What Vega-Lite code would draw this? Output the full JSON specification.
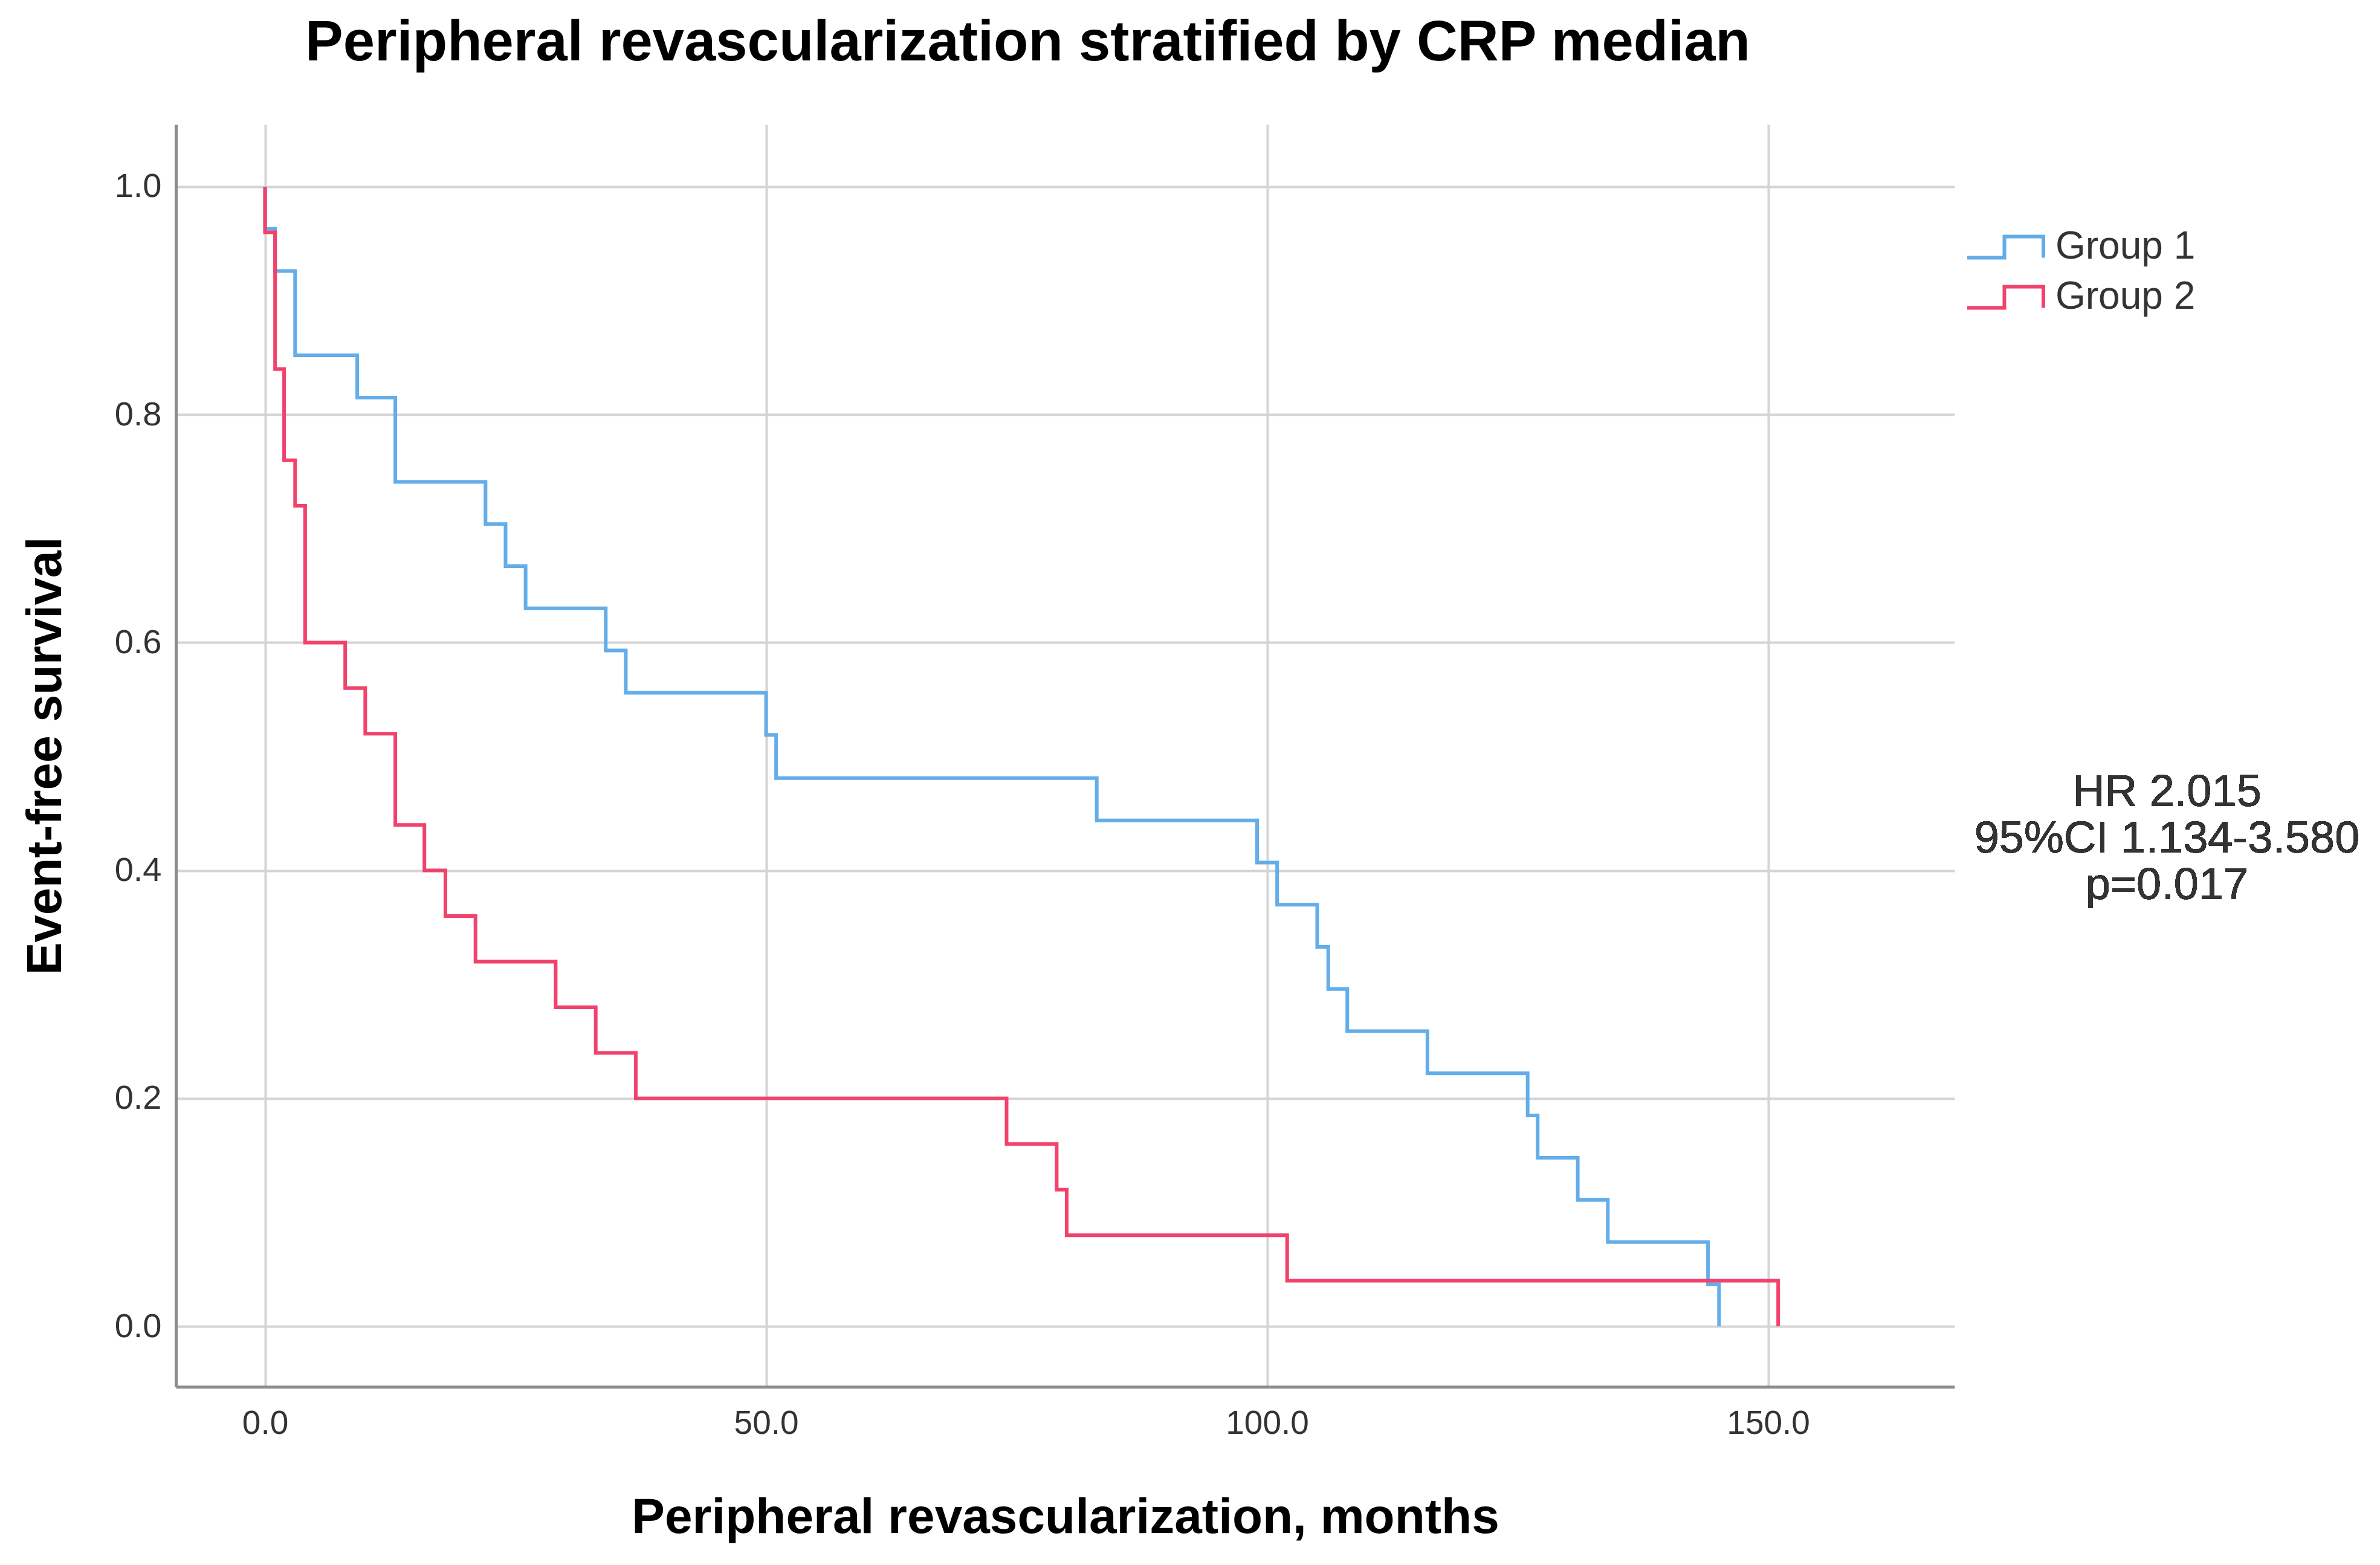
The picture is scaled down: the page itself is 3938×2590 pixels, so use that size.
{
  "$schema": "https://vega.github.io/schema/vega-lite/v6.json",
  "width": 2943,
  "height": 2089,
  "autosize": {"type": "none"},
  "padding": {"left": 291, "top": 206, "right": 704, "bottom": 295},
  "background": "white",
  "config": {"view": {"stroke": null}, "font": "Liberation Sans"},
  "title": {
    "text": "Peripheral revascularization stratified by CRP median",
    "fontSize": 94,
    "fontWeight": "bold",
    "font": "Liberation Sans",
    "color": "#000000",
    "anchor": "middle",
    "offset": 86,
    "dx": -62
  },
  "data": {
    "values": [
      {"group": "Group 1", "i": 0, "months": 0, "survival": 1.0},
      {"group": "Group 1", "i": 1, "months": 0, "survival": 0.963},
      {"group": "Group 1", "i": 2, "months": 1.0, "survival": 0.926},
      {"group": "Group 1", "i": 3, "months": 3.0, "survival": 0.852},
      {"group": "Group 1", "i": 4, "months": 9.2, "survival": 0.815},
      {"group": "Group 1", "i": 5, "months": 13.0, "survival": 0.741},
      {"group": "Group 1", "i": 6, "months": 22.0, "survival": 0.704},
      {"group": "Group 1", "i": 7, "months": 24.0, "survival": 0.667},
      {"group": "Group 1", "i": 8, "months": 26.0, "survival": 0.630},
      {"group": "Group 1", "i": 9, "months": 34.0, "survival": 0.593},
      {"group": "Group 1", "i": 10, "months": 36.0, "survival": 0.556},
      {"group": "Group 1", "i": 11, "months": 50.0, "survival": 0.519},
      {"group": "Group 1", "i": 12, "months": 51.0, "survival": 0.481},
      {"group": "Group 1", "i": 13, "months": 83.0, "survival": 0.444},
      {"group": "Group 1", "i": 14, "months": 99.0, "survival": 0.407},
      {"group": "Group 1", "i": 15, "months": 101.0, "survival": 0.370},
      {"group": "Group 1", "i": 16, "months": 105.0, "survival": 0.333},
      {"group": "Group 1", "i": 17, "months": 106.1, "survival": 0.296},
      {"group": "Group 1", "i": 18, "months": 108.0, "survival": 0.259},
      {"group": "Group 1", "i": 19, "months": 116.0, "survival": 0.222},
      {"group": "Group 1", "i": 20, "months": 126.0, "survival": 0.185},
      {"group": "Group 1", "i": 21, "months": 127.0, "survival": 0.148},
      {"group": "Group 1", "i": 22, "months": 131.0, "survival": 0.111},
      {"group": "Group 1", "i": 23, "months": 134.0, "survival": 0.074},
      {"group": "Group 1", "i": 24, "months": 144.0, "survival": 0.037},
      {"group": "Group 1", "i": 25, "months": 145.1, "survival": 0.0},
      {"group": "Group 2", "i": 0, "months": 0, "survival": 1.0},
      {"group": "Group 2", "i": 1, "months": 0, "survival": 0.96},
      {"group": "Group 2", "i": 2, "months": 1.0, "survival": 0.84},
      {"group": "Group 2", "i": 3, "months": 1.9, "survival": 0.76},
      {"group": "Group 2", "i": 4, "months": 3.0, "survival": 0.72},
      {"group": "Group 2", "i": 5, "months": 4.0, "survival": 0.60},
      {"group": "Group 2", "i": 6, "months": 8.0, "survival": 0.56},
      {"group": "Group 2", "i": 7, "months": 10.0, "survival": 0.52},
      {"group": "Group 2", "i": 8, "months": 13.0, "survival": 0.44},
      {"group": "Group 2", "i": 9, "months": 15.9, "survival": 0.40},
      {"group": "Group 2", "i": 10, "months": 18.0, "survival": 0.36},
      {"group": "Group 2", "i": 11, "months": 21.0, "survival": 0.32},
      {"group": "Group 2", "i": 12, "months": 29.0, "survival": 0.28},
      {"group": "Group 2", "i": 13, "months": 33.0, "survival": 0.24},
      {"group": "Group 2", "i": 14, "months": 37.0, "survival": 0.20},
      {"group": "Group 2", "i": 15, "months": 74.0, "survival": 0.16},
      {"group": "Group 2", "i": 16, "months": 79.0, "survival": 0.12},
      {"group": "Group 2", "i": 17, "months": 80.0, "survival": 0.08},
      {"group": "Group 2", "i": 18, "months": 102.0, "survival": 0.04},
      {"group": "Group 2", "i": 19, "months": 151.0, "survival": 0.0}
    ]
  },
  "layer": [
    {
      "mark": {"type": "line", "interpolate": "step-after", "strokeWidth": 6},
      "encoding": {
        "x": {
          "field": "months",
          "type": "quantitative",
          "scale": {"domain": [-8.9, 168.6], "nice": false, "zero": false},
          "axis": {
            "values": [0, 50, 100, 150],
            "format": ".1f",
            "title": "Peripheral revascularization, months",
            "titleFont": "Liberation Sans",
            "titleFontSize": 82,
            "titleFontWeight": "bold",
            "titleColor": "#000000",
            "titlePadding": 88,
            "labelFont": "Liberation Sans",
            "labelFontSize": 55,
            "labelColor": "#333333",
            "labelPadding": 34,
            "labelFlush": false,
            "ticks": false,
            "domainColor": "#8c8c8c",
            "domainWidth": 5,
            "grid": true,
            "gridColor": "#d4d4d4",
            "gridWidth": 4
          }
        },
        "y": {
          "field": "survival",
          "type": "quantitative",
          "scale": {"domain": [-0.053, 1.0546], "nice": false, "zero": false},
          "axis": {
            "values": [0, 0.2, 0.4, 0.6, 0.8, 1.0],
            "format": ".1f",
            "title": "Event-free survival",
            "titleFont": "Liberation Sans",
            "titleFontSize": 81,
            "titleFontWeight": "bold",
            "titleColor": "#000000",
            "titlePadding": 72,
            "labelFont": "Liberation Sans",
            "labelFontSize": 56,
            "labelColor": "#333333",
            "labelPadding": 24,
            "labelFlush": false,
            "ticks": false,
            "domainColor": "#8c8c8c",
            "domainWidth": 5,
            "grid": true,
            "gridColor": "#d4d4d4",
            "gridWidth": 4
          }
        },
        "color": {
          "field": "group",
          "type": "nominal",
          "scale": {"domain": ["Group 1", "Group 2"], "range": ["#62adea", "#f2426c"]},
          "legend": {
            "title": null,
            "orient": "none",
            "legendX": 2994,
            "legendY": 170,
            "padding": 0,
            "symbolType": "M-2.1,0.58L-0.05,0.58L-0.05,-0.58L2.1,-0.58L2.1,0.58",
            "symbolSize": 3600,
            "symbolStrokeWidth": 6,
            "symbolFillColor": "transparent",
            "labelFont": "Liberation Sans",
            "labelFontSize": 64,
            "labelLimit": 600,
            "labelColor": "#333333",
            "labelOffset": 50,
            "rowPadding": 18
          }
        },
        "order": {"field": "i", "type": "quantitative"}
      }
    },
    {
      "mark": {
        "type": "text",
        "text": ["HR 2.015", "95%CI 1.134-3.580", "p=0.017"],
        "font": "Liberation Sans",
        "fontSize": 74,
        "lineHeight": 77,
        "align": "center",
        "baseline": "middle",
        "color": "#333333"
      },
      "encoding": {
        "x": {"datum": 189.8},
        "y": {"datum": 0.468}
      }
    }
  ]
}
